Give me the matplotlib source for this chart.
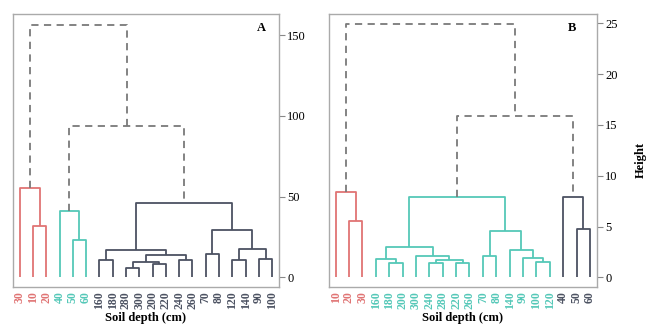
import matplotlib
matplotlib.use("Agg")
import matplotlib.pyplot as plt

plt.rcParams['font.family'] = ['Liberation Serif', 'DejaVu Serif']

RED = '#e07474'
CYAN = '#55c8b8'
DARK = '#4c5262'
DASH = '#7a7a7a'

# panel A: leaf order, leaf colours, merges (left, right, height, colour)
leaves_a = ['30', '10', '20', '40', '50', '60', '160', '180', '280', '300',
            '200', '220', '240', '260', '70', '80', '120', '140', '90', '100']
groups_a = ['r'] * 3 + ['c'] * 3 + ['d'] * 14
merges_a = [
    (1, 2, 31.6, 'r'), (0, 20, 55.1, 'r'),
    (4, 5, 23.1, 'c'), (3, 22, 41.2, 'c'),
    (6, 7, 10.6, 'd'), (8, 9, 5.5, 'd'), (10, 11, 8.2, 'd'),
    (25, 26, 9.4, 'd'), (12, 13, 10.6, 'd'), (27, 28, 13.7, 'd'),
    (24, 29, 16.7, 'd'), (14, 15, 14.7, 'd'), (16, 17, 10.6, 'd'),
    (18, 19, 11.6, 'd'), (32, 33, 17.3, 'd'), (31, 34, 29.6, 'd'),
    (30, 35, 46.3, 'd'),
    (23, 36, 94.0, 'x'), (21, 37, 156.5, 'x'),
]

# panel B
leaves_b = ['10', '20', '30', '160', '180', '200', '300', '240', '280', '220',
            '260', '70', '80', '140', '90', '100', '120', '40', '50', '60']
groups_b = ['r'] * 3 + ['c'] * 14 + ['d'] * 3
merges_b = [
    (1, 2, 5.5, 'r'), (0, 20, 8.35, 'r'),
    (4, 5, 1.38, 'c'), (3, 22, 1.8, 'c'), (7, 8, 1.38, 'c'),
    (9, 10, 1.45, 'c'), (24, 25, 1.7, 'c'), (6, 26, 2.1, 'c'),
    (23, 27, 3.0, 'c'), (11, 12, 2.1, 'c'), (15, 16, 1.48, 'c'),
    (14, 30, 1.9, 'c'), (13, 31, 2.7, 'c'), (29, 32, 4.6, 'c'),
    (28, 33, 7.9, 'c'),
    (18, 19, 4.75, 'd'), (17, 35, 7.9, 'd'),
    (34, 36, 15.9, 'x'), (21, 37, 24.95, 'x'),
]

colmap = {'r': RED, 'c': CYAN, 'd': DARK, 'x': DASH}


def draw_tree(ax, leaves, groups, merges):
    n = len(leaves)
    xpos = {i: float(i) for i in range(n)}
    ypos = {i: 0.0 for i in range(n)}
    for k, (a, b, h, g) in enumerate(merges):
        c = colmap[g]
        ls = (0, (4, 3)) if g == 'x' else '-'
        ax.plot([xpos[a], xpos[a], xpos[b], xpos[b]],
                [ypos[a], h, h, ypos[b]], color=c, lw=1.3, ls=ls,
                solid_capstyle='butt')
        xpos[n + k] = (xpos[a] + xpos[b]) / 2
        ypos[n + k] = h
    ax.set_xticks(range(n))
    ax.set_xticklabels(leaves, rotation=90, fontsize=8.5, fontweight='bold')
    for lab, g in zip(ax.get_xticklabels(), groups):
        lab.set_color(colmap[g])
    ax.tick_params(axis='x', length=0, pad=3)
    ax.set_xlim(-0.5, n - 0.5)
    ax.yaxis.tick_right()
    ax.tick_params(axis='y', length=4, color='#888888', labelsize=9, pad=2)
    for sp in ax.spines.values():
        sp.set_color('#aaaaaa')
        sp.set_linewidth(1)
    ax.set_xlabel('Soil depth (cm)', fontsize=9, fontweight='bold', labelpad=2)


fig = plt.figure(figsize=(6.5, 3.32), dpi=100)
ax1 = fig.add_axes([0.02, 0.1355, 0.409, 0.822])
ax2 = fig.add_axes([0.506, 0.1355, 0.412, 0.822])

draw_tree(ax1, leaves_a, groups_a, merges_a)
ax1.set_ylim(-6, 163)
ax1.set_yticks([0, 50, 100, 150])
ax1.text(0.936, 0.949, 'A', transform=ax1.transAxes, fontsize=9,
         fontweight='bold', ha='center', va='center')

draw_tree(ax2, leaves_b, groups_b, merges_b)
ax2.set_ylim(-0.95, 25.9)
ax2.set_yticks([0, 5, 10, 15, 20, 25])
ax2.yaxis.set_label_position('right')
ax2.set_ylabel('Height', fontsize=9, fontweight='bold')
ax2.yaxis.set_label_coords(1.142, 0.465)
ax2.text(0.907, 0.949, 'B', transform=ax2.transAxes, fontsize=9,
         fontweight='bold', ha='center', va='center')

fig.savefig('out.png', dpi=100)
